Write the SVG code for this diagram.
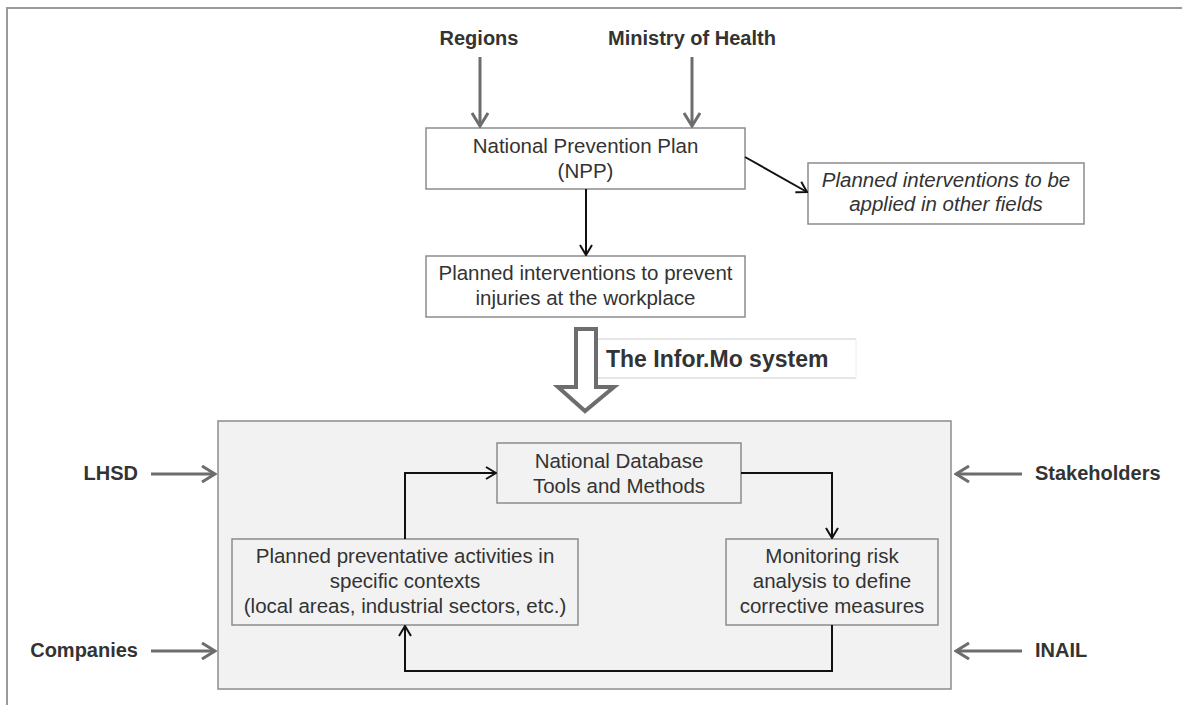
<svg xmlns="http://www.w3.org/2000/svg" width="1182" height="705" viewBox="0 0 1182 705">
<style>
  .box{fill:#ffffff;stroke:#8c8c8c;stroke-width:1.5}
  .ibox{fill:#f2f2f2;stroke:#8c8c8c;stroke-width:1.5}
  .t{font-family:"Liberation Sans",Arial,sans-serif;font-size:20.5px;fill:#333333;text-anchor:middle}
  .it{font-style:italic}
  .lbl{font-family:"Liberation Sans",Arial,sans-serif;font-size:20px;font-weight:bold;fill:#333333}
  .conn{fill:none;stroke:#111111;stroke-width:2}
  .gconn{fill:none;stroke:#6d6d6d;stroke-width:3}
</style>
<defs>
  <marker id="ah" viewBox="0 0 12 14" refX="11" refY="7" markerWidth="12" markerHeight="14" markerUnits="userSpaceOnUse" orient="auto">
    <path d="M1,1 L11,7 L1,13" fill="none" stroke="#111111" stroke-width="2"/>
  </marker>
  <marker id="gah" viewBox="0 0 16 18" refX="14" refY="9" markerWidth="16" markerHeight="18" markerUnits="userSpaceOnUse" orient="auto">
    <path d="M1,1 L14,9 L1,17" fill="none" stroke="#6d6d6d" stroke-width="3"/>
  </marker>
</defs>
<rect x="0" y="0" width="1182" height="705" fill="#ffffff"/>
<!-- frame -->
<path d="M7,705 V8 H1182" fill="none" stroke="#9a9a9a" stroke-width="2"/>

<!-- bottom container -->
<g id="infomo-container">
  <rect class="ibox" x="218" y="421" width="733" height="268"/>
</g>

<g id="regions"><text class="lbl" x="479" y="45" text-anchor="middle">Regions</text></g>
<g id="ministry"><text class="lbl" x="692" y="45" text-anchor="middle">Ministry of Health</text></g>

<g id="npp">
  <rect class="box" x="426" y="128" width="319" height="61"/>
  <text class="t" x="585.5" y="153">National Prevention Plan</text>
  <text class="t" x="585.5" y="178">(NPP)</text>
</g>

<g id="other-fields">
  <rect class="box" x="808" y="163" width="276" height="61"/>
  <text class="t it" x="946" y="187">Planned interventions to be</text>
  <text class="t it" x="946" y="211">applied in other fields</text>
</g>

<g id="workplace">
  <rect class="box" x="426" y="256" width="319" height="61"/>
  <text class="t" x="585.5" y="280">Planned interventions to prevent</text>
  <text class="t" x="585.5" y="305">injuries at the workplace</text>
</g>

<g id="infomo-label">
  <line x1="586" y1="339" x2="856" y2="339" stroke="#cccccc" stroke-width="1"/>
  <line x1="586" y1="378" x2="856" y2="378" stroke="#cccccc" stroke-width="1"/>
  <line x1="856" y1="339" x2="856" y2="378" stroke="#eeeeee" stroke-width="1"/>
  <text class="lbl" x="606" y="367" style="font-size:23px">The Infor.Mo system</text>
</g>

<g id="big-arrow">
  <path d="M576,329 H596 V387 H614 L585,411 L558,387 H576 Z" fill="#ffffff" stroke="#6d6d6d" stroke-width="4" stroke-linejoin="miter"/>
</g>

<g id="lhsd"><text class="lbl" x="138" y="480" text-anchor="end">LHSD</text></g>
<g id="companies"><text class="lbl" x="138" y="657" text-anchor="end">Companies</text></g>
<g id="stakeholders"><text class="lbl" x="1035" y="480">Stakeholders</text></g>
<g id="inail"><text class="lbl" x="1035" y="657">INAIL</text></g>

<g id="national-db">
  <rect class="ibox" x="497" y="443" width="244" height="60"/>
  <text class="t" x="619" y="468">National Database</text>
  <text class="t" x="619" y="493">Tools and Methods</text>
</g>

<g id="preventative">
  <rect class="ibox" x="232" y="539" width="346" height="86"/>
  <text class="t" x="405" y="563">Planned preventative activities in</text>
  <text class="t" x="405" y="588">specific contexts</text>
  <text class="t" x="405" y="613">(local areas, industrial sectors, etc.)</text>
</g>

<g id="monitoring">
  <rect class="ibox" x="726" y="539" width="212" height="86"/>
  <text class="t" x="832" y="563">Monitoring risk</text>
  <text class="t" x="832" y="588">analysis to define</text>
  <text class="t" x="832" y="613">corrective measures</text>
</g>

<g id="connectors">
  <line class="gconn" x1="480" y1="57" x2="480" y2="126" marker-end="url(#gah)"/>
  <line class="gconn" x1="692" y1="57" x2="692" y2="126" marker-end="url(#gah)"/>
  <line class="gconn" x1="151" y1="474" x2="215" y2="474" marker-end="url(#gah)"/>
  <line class="gconn" x1="151" y1="651" x2="215" y2="651" marker-end="url(#gah)"/>
  <line class="gconn" x1="1022" y1="474" x2="956" y2="474" marker-end="url(#gah)"/>
  <line class="gconn" x1="1022" y1="651" x2="956" y2="651" marker-end="url(#gah)"/>
  <line class="conn" x1="586" y1="189" x2="586" y2="255" marker-end="url(#ah)"/>
  <line class="conn" x1="745" y1="157" x2="807" y2="192" marker-end="url(#ah)"/>
  <path class="conn" d="M405,539 V473 H496" marker-end="url(#ah)"/>
  <path class="conn" d="M741,473 H832 V538" marker-end="url(#ah)"/>
  <path class="conn" d="M832,625 V671 H405 V626" marker-end="url(#ah)"/>
</g>
</svg>
